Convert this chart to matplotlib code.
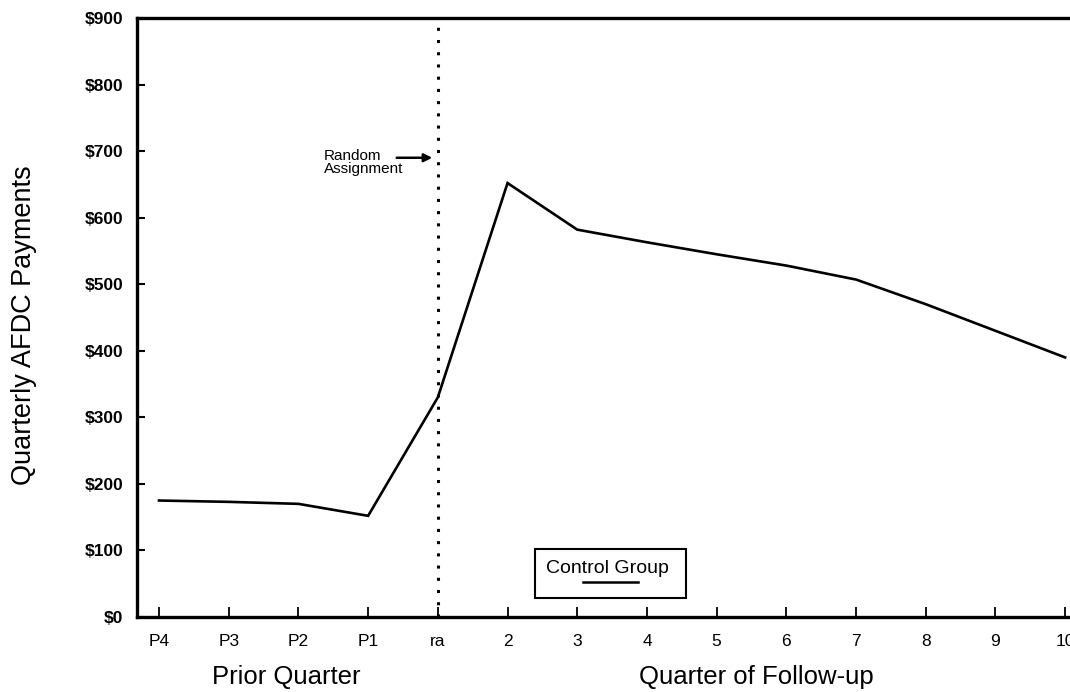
import matplotlib
matplotlib.use("Agg")
import matplotlib.pyplot as plt
from matplotlib.patches import Rectangle

plt.rcParams['font.family'] = ['Liberation Sans', 'DejaVu Sans']

# Data
quarters = ["P4", "P3", "P2", "P1", "ra", "2", "3", "4", "5", "6", "7", "8", "9", "10"]
control_payments = [175, 173, 170, 152, 330, 652, 582, 563, 545, 528, 507, 470, 430, 390]
y_ticks = [0, 100, 200, 300, 400, 500, 600, 700, 800, 900]
y_tick_labels = ["$" + str(v) for v in y_ticks]
series_name = "Control Group"

fig = plt.figure(figsize=(10.70, 6.92), dpi=100)
ax = fig.add_axes([137/1070, 1 - 617/692, (1100 - 137)/1070, 599/692])

x = list(range(len(quarters)))
ax.plot(x, control_payments, color="black", linewidth=1.9, solid_joinstyle="miter")

ax.set_xlim(-0.316, 13.5)
ax.set_ylim(0, 900)

ax.set_yticks(y_ticks)
ax.set_yticklabels(y_tick_labels, fontsize=12.5, fontweight="bold")
ax.set_xticks(x)
ax.set_xticklabels(quarters, fontsize=12.5)
ax.tick_params(axis="y", direction="in", length=6, width=1.5, pad=10)
ax.tick_params(axis="x", direction="in", length=7, width=1.3, pad=12)

for s in ["left", "bottom", "top"]:
    ax.spines[s].set_linewidth(2.4)
ax.spines["right"].set_visible(False)

# Random assignment dotted line
ax.axvline(4, color="black", linestyle=(0, (1, 3)), linewidth=2.2)
ax.annotate("", xy=(3.96, 690), xytext=(3.37, 690),
            arrowprops=dict(arrowstyle="-|>", color="black", lw=1.8, mutation_scale=12))
ax.text(2.36, 683, "Random\nAssignment", fontsize=11, ha="left", va="center", linespacing=0.95)

# Legend box
ax.add_patch(Rectangle((5.39, 28.5), 2.17, 73.5, fill=False, edgecolor="black", linewidth=1.5, zorder=3))
ax.text(6.44, 73, series_name, fontsize=14, ha="center", va="center")
ax.plot([6.08, 6.87], [52.6, 52.6], color="black", linewidth=1.8)

# Labels
fig.text(24/1070, 1 - 325/692, "Quarterly AFDC Payments", rotation=90, fontsize=19.5,
         ha="center", va="center")
fig.text(286/1070, 1 - 677/692, "Prior Quarter", fontsize=18.5, ha="center", va="center")
fig.text(756/1070, 1 - 677/692, "Quarter of Follow-up", fontsize=18.5, ha="center", va="center")

fig.savefig("out.png", dpi=100)
